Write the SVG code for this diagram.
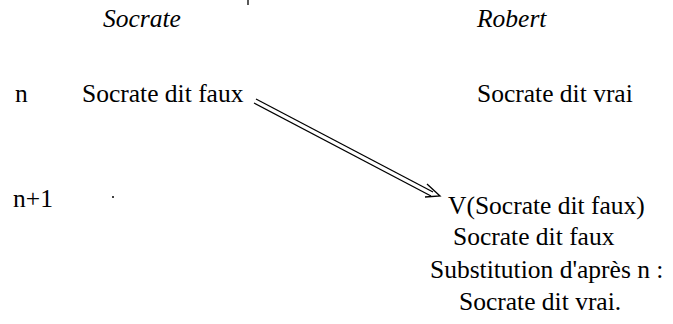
<svg xmlns="http://www.w3.org/2000/svg" width="673" height="324" viewBox="0 0 673 324">
<style>
.t{font-family:"Liberation Serif";font-size:25.5px;fill:#000}
.it{font-style:italic}
.ln{stroke:#000;stroke-width:1.3;fill:none}
</style>
<rect width="673" height="324" fill="#fff"/>
<g id="tick"><line class="ln" x1="248" y1="0" x2="248" y2="5"/></g>
<g id="hdr-socrate"><text class="t it" x="103" y="27">Socrate</text></g>
<g id="hdr-robert"><text class="t it" x="477" y="27">Robert</text></g>
<g id="row-n"><text class="t" x="15" y="102">n</text></g>
<g id="n-socrate"><text class="t" x="82" y="102">Socrate dit faux</text></g>
<g id="n-robert"><text class="t" x="477" y="102">Socrate dit vrai</text></g>
<g id="row-n1"><text class="t" x="13" y="207">n+1</text><circle cx="113" cy="197" r="1"/></g>
<g id="n1-robert">
<text class="t" x="448" y="214">V(Socrate dit faux)</text>
<text class="t" x="453" y="245">Socrate dit faux</text>
<text class="t" x="430" y="278">Substitution d'après n :</text>
<text class="t" x="459" y="310">Socrate dit vrai.</text>
</g>
<g id="connectors">
<line class="ln" x1="256" y1="99" x2="433" y2="192"/>
<line class="ln" x1="254" y1="103" x2="431" y2="196"/>
<polyline class="ln" points="427,184 440,196 425,197"/>
</g>
</svg>
